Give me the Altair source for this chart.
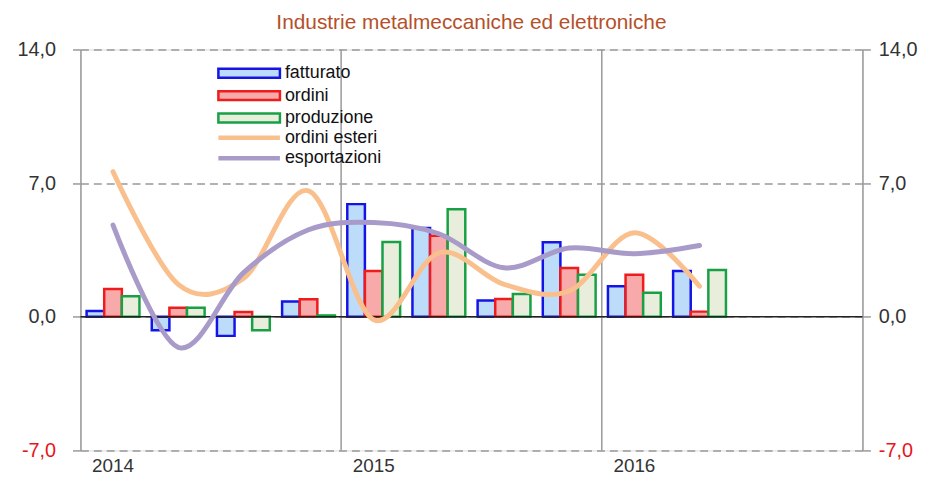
import altair as alt
import pandas as pd

quarters = ["2014-T1", "2014-T2", "2014-T3", "2014-T4",
            "2015-T1", "2015-T2", "2015-T3", "2015-T4",
            "2016-T1", "2016-T2", "2016-T3", "2016-T4"]
data_quarters = quarters[:10]
year_starts = ["2015-T1", "2016-T1"]

bar_series = ["fatturato", "ordini", "produzione"]
line_series = ["ordini esteri", "esportazioni"]

fatturato = [0.3, -0.7, -1.0, 0.8, 5.9, 4.65, 0.85, 3.9, 1.6, 2.4]
ordini = [1.45, 0.47, 0.25, 0.92, 2.4, 4.25, 0.93, 2.55, 2.2, 0.27]
produzione = [1.07, 0.47, -0.7, 0.07, 3.92, 5.63, 1.19, 2.2, 1.26, 2.45]
ordini_esteri = [7.6, 1.7, 2.0, 6.6, -0.15, 3.35, 1.7, 1.35, 4.4, 1.6]
esportazioni = [4.8, -1.6, 2.3, 4.56, 4.94, 4.35, 2.57, 3.6, 3.3, 3.73]

y_ticks = [-7, 0, 7, 14]

bar_stroke = ["#1414e6", "#ee1c1c", "#18a045"]
bar_fill = ["#bcdcfa", "#f8a9a9", "#e9eedc"]
line_colors = ["#f9c08e", "#a99bc9"]

bar_rows = []
for name, vals in zip(bar_series, [fatturato, ordini, produzione]):
    for q, v in zip(data_quarters, vals):
        bar_rows.append({"trimestre": q, "serie": name, "valore": v})
df_bars = pd.DataFrame(bar_rows)

line_rows = []
for name, vals in zip(line_series, [ordini_esteri, esportazioni]):
    for q, v in zip(data_quarters, vals):
        line_rows.append({"trimestre": q, "serie": name, "valore": v})
df_lines = pd.DataFrame(line_rows)

df_years = pd.DataFrame({"trimestre": year_starts})
df_zero = pd.DataFrame({"valore": [0]})

FONT = "Liberation Sans"
stroke_scale = alt.Scale(domain=bar_series, range=bar_stroke)
fill_scale = alt.Scale(domain=bar_series, range=bar_fill)
color_scale = alt.Scale(domain=line_series, range=line_colors)
x_scale = alt.Scale(domain=quarters, paddingInner=0, paddingOuter=0)
y_scale = alt.Scale(domain=[-7, 14], nice=False, zero=False)

x_axis = alt.Axis(
    title=None, labelExpr="slice(datum.value, 5) == 'T1' ? slice(datum.value, 0, 4) : ''",
    labelAngle=0, labelFontSize=19, labelColor="#333", labelFont=FONT,
    ticks=False, tickSize=0, domain=False, grid=False, labelPadding=6,
    labelOverlap=False,
)

label_expr_y = "replace((datum.value < 0 ? '-' : '') + format(abs(datum.value), '.1f'), '.', ',')"
label_color_y = {"condition": {"test": "datum.value < 0", "value": "#e8141c"}, "value": "#333"}

left_axis = alt.Axis(
    orient="left", values=y_ticks, labelExpr=label_expr_y, labelFontSize=20, labelFont=FONT,
    labelColor=label_color_y, tickSize=8, tickColor="#999", tickWidth=1.5,
    domainColor="#999", domainWidth=1.5, grid=True, gridDash=[8, 5], gridColor="#999",
    gridWidth=1.5, labelPadding=17, title=None,
)
right_axis = alt.Axis(
    orient="right", values=y_ticks, labelExpr=label_expr_y, labelFontSize=20, labelFont=FONT,
    labelColor=label_color_y, tickSize=8, tickColor="#999", tickWidth=1.5,
    domainColor="#999", domainWidth=1.5, grid=False, labelPadding=8, title=None,
)

bar_legend = alt.Legend(
    title=None, orient="none", legendX=135, legendY=15, padding=0,
    labelFontSize=18, labelFont=FONT, labelColor="#111", symbolSize=100,
    labelOffset=53, rowPadding=2.5, symbolStrokeWidth=2.5,
    symbolType="M-1,-0.9H11.4V0.9H-1Z",
)
line_legend = alt.Legend(
    title=None, orient="none", legendX=135, legendY=80, padding=0,
    labelFontSize=18, labelFont=FONT, labelColor="#111", symbolSize=100,
    labelOffset=53, rowPadding=2.5, symbolStrokeWidth=4.5,
    symbolType="M-1,0H11.4", symbolFillColor="transparent",
)

year_rules = alt.Chart(df_years).mark_rule(color="#999", strokeWidth=1.5).encode(
    x=alt.X("trimestre:N", scale=x_scale, axis=x_axis, bandPosition=0),
)

bars = alt.Chart(df_bars).mark_bar(strokeWidth=2.5).encode(
    x=alt.X("trimestre:N", scale=x_scale, axis=x_axis, sort=quarters),
    xOffset=alt.XOffset("serie:N", sort=bar_series,
                        scale=alt.Scale(domain=bar_series, paddingInner=0, paddingOuter=0.35)),
    y=alt.Y("valore:Q", scale=y_scale, axis=left_axis),
    fill=alt.Fill("serie:N", scale=fill_scale, legend=bar_legend),
    stroke=alt.Stroke("serie:N", scale=stroke_scale, legend=bar_legend),
)

zero_rule = alt.Chart(df_zero).mark_rule(color="#222", strokeWidth=1.5).encode(
    y=alt.Y("valore:Q", scale=y_scale, axis=None),
)

lines = alt.Chart(df_lines).mark_line(strokeWidth=5, interpolate="cardinal", strokeCap="round").encode(
    x=alt.X("trimestre:N", scale=x_scale, axis=x_axis, sort=quarters),
    y=alt.Y("valore:Q", scale=y_scale, axis=right_axis),
    color=alt.Color("serie:N", scale=color_scale, legend=line_legend, sort=line_series),
)

chart = alt.layer(year_rules, bars, zero_rule, lines).resolve_axis(y="independent").properties(
    width=788, height=404,
    autosize=alt.AutoSizeParams(type="none"),
    padding={"left": 73, "top": 40, "right": 60, "bottom": 28},
    title=alt.TitleParams(
        "Industrie metalmeccaniche ed elettroniche", font=FONT, fontSize=21,
        fontWeight="normal", color="#b5502a", anchor="middle", offset=7,
    ),
).configure_view(stroke=None).configure(font=FONT)

chart.save("out.html", embed_options={"renderer": "svg", "actions": False})
